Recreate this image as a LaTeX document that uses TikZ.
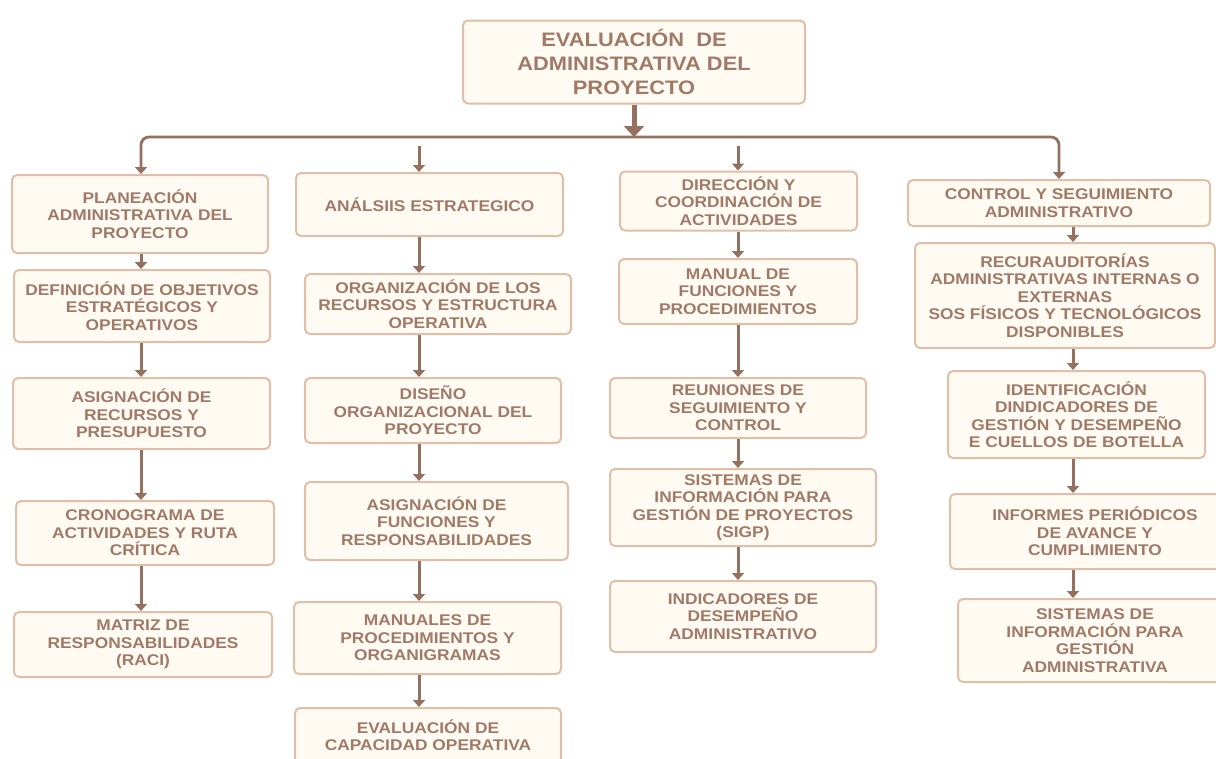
\documentclass[tikz,border=0pt]{standalone}
\usepackage{fontspec}
\setmainfont[FakeStretch=1.12]{Liberation Sans}
\usetikzlibrary{arrows.meta}
\definecolor{cafe}{RGB}{148,112,95}
\definecolor{cafetexto}{RGB}{160,122,103}
\definecolor{borde}{RGB}{224,190,167}
\definecolor{fondo}{RGB}{255,251,243}
\newcommand{\tikzCaja}[6]{
% #1 = name, #2 = x, #3 = y, #4 = width, #5 = height, #6 = text
\node[caja, minimum width=#4, minimum height=#5] (#1) at (#2,#3) {#6};
}

\begin{document}
\begin{tikzpicture}[x=1pt, y=-1pt,
    caja/.style={draw=borde, fill=fondo, line width=2pt, rounded corners=5pt, align=center,
        text=cafetexto, font=\bfseries\fontsize{15.5}{17.5}\selectfont, inner sep=2pt},
    flecha/.style={draw=cafe, line width=3pt, -{Triangle[length=7pt, width=12pt]}}]

    \clip (0,0) rectangle (1216,758);
    \fill[white] (0,0) rectangle (1216,758);

    % title box
    \node[caja, minimum width=342, minimum height=83, font=\bfseries\fontsize{19.5}{24}\selectfont]
        (raiz) at (634,62) {EVALUACIÓN \ DE\\ADMINISTRATIVA DEL\\PROYECTO};

    % first column
    \tikzCaja{p1}{140}{214}{256}{78}{PLANEACIÓN\\ADMINISTRATIVA DEL\\PROYECTO}
    \tikzCaja{p2}{142}{306}{256}{72}{DEFINICIÓN DE OBJETIVOS\\ESTRATÉGICOS Y\\OPERATIVOS}
    \tikzCaja{p3}{141.5}{413.5}{257}{71}{ASIGNACIÓN DE\\RECURSOS Y\\PRESUPUESTO}
    \tikzCaja{p4}{145}{533}{258}{64}{CRONOGRAMA DE\\ACTIVIDADES Y RUTA\\CRÍTICA}
    \tikzCaja{p5}{143}{644.5}{258}{65}{MATRIZ DE\\RESPONSABILIDADES\\(RACI)}

    % second column
    \tikzCaja{a1}{429.5}{204.5}{267}{63}{ANÁLSIIS ESTRATEGICO}
    \tikzCaja{a2}{438}{304}{266}{60}{ORGANIZACIÓN DE LOS\\RECURSOS Y ESTRUCTURA\\OPERATIVA}
    \tikzCaja{a3}{433}{410.5}{256}{65}{DISEÑO\\ORGANIZACIONAL DEL\\PROYECTO}
    \tikzCaja{a4}{436.5}{521}{263}{78}{ASIGNACIÓN DE\\FUNCIONES Y\\RESPONSABILIDADES}
    \tikzCaja{a5}{427.5}{638}{267}{72}{MANUALES DE\\PROCEDIMIENTOS Y\\ORGANIGRAMAS}
    \tikzCaja{a6}{428}{744}{266}{72}{EVALUACIÓN DE\\CAPACIDAD OPERATIVA\\\ }

    % third column
    \tikzCaja{d1}{738.5}{201}{237}{59}{DIRECCIÓN Y\\COORDINACIÓN DE\\ACTIVIDADES}
    \tikzCaja{d2}{738}{291.5}{238}{65}{MANUAL DE\\FUNCIONES Y\\PROCEDIMIENTOS}
    \tikzCaja{d3}{738}{408}{256}{60}{REUNIONES DE\\SEGUIMIENTO Y\\CONTROL}
    \tikzCaja{d4}{743}{507.5}{266}{77}{SISTEMAS DE\\INFORMACIÓN PARA\\GESTIÓN DE PROYECTOS\\(SIGP)}
    \tikzCaja{d5}{743}{616.5}{266}{71}{INDICADORES DE\\DESEMPEÑO\\ADMINISTRATIVO}

    % fourth column
    \tikzCaja{c1}{1059}{203}{302}{46}{CONTROL Y SEGUIMIENTO\\ADMINISTRATIVO}
    \tikzCaja{c2}{1065}{295.5}{300}{105}{RECURAUDITORÍAS\\ADMINISTRATIVAS INTERNAS O\\EXTERNAS\\SOS FÍSICOS Y TECNOLÓGICOS\\DISPONIBLES}
    \tikzCaja{c3}{1076.5}{414.5}{257}{87}{IDENTIFICACIÓN\\DINDICADORES DE\\GESTIÓN Y DESEMPEÑO\\E CUELLOS DE BOTELLA}
    \tikzCaja{c4}{1095}{531.5}{290}{75}{INFORMES PERIÓDICOS\\DE AVANCE Y\\CUMPLIMIENTO}
    \tikzCaja{c5}{1095}{640.5}{274}{83}{SISTEMAS DE\\INFORMACIÓN PARA\\GESTIÓN\\ADMINISTRATIVA}

    % x of the arrows in each column
    \coordinate (e1) at (141,0);
    \coordinate (e2) at (419,0);
    \coordinate (e3) at (738,0);
    \coordinate (e4) at (1073,0);
    \coordinate (bus) at (634,137);

    % main arrow and the bus line
    \draw[cafe, line width=5pt, -{Triangle[length=11pt, width=20pt]}] (raiz.south) -- (raiz.south |- bus);
    \draw[cafe, line width=2.8pt, rounded corners=8pt,
        {Triangle[length=7pt, width=12pt]}-{Triangle[length=7pt, width=12pt]}]
        (e1 |- p1.north) |- (bus) -| (c1.north);
    \draw[flecha] ([yshift=-9pt]e2 |- bus) -- (e2 |- a1.north);
    \draw[flecha] ([yshift=-9pt]e3 |- bus) -- (e3 |- d1.north);

    % arrows inside the columns
    \foreach \i/\j in {p1/p2, p2/p3, p3/p4, p4/p5}
        \draw[flecha] (e1 |- \i.south) -- (e1 |- \j.north);
    \foreach \i/\j in {a1/a2, a2/a3, a3/a4, a4/a5, a5/a6}
        \draw[flecha] (e2 |- \i.south) -- (e2 |- \j.north);
    \foreach \i/\j in {d1/d2, d2/d3, d3/d4, d4/d5}
        \draw[flecha] (e3 |- \i.south) -- (e3 |- \j.north);
    \foreach \i/\j in {c1/c2, c2/c3, c3/c4, c4/c5}
        \draw[flecha] (e4 |- \i.south) -- (e4 |- \j.north);

\end{tikzpicture}
\end{document}
